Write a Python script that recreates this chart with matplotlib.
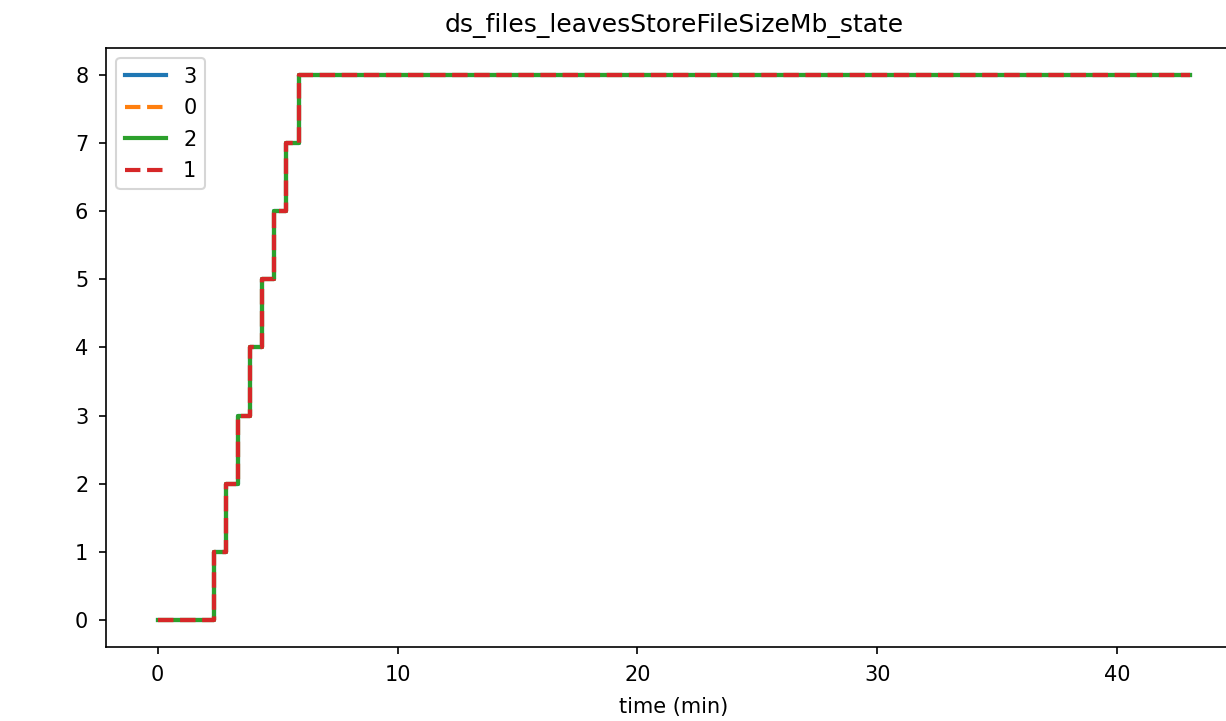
import matplotlib
matplotlib.use("Agg")
import matplotlib.pyplot as plt
import numpy as np

# series labels in legend order, all four nodes report the same value
series = ['3', '0', '2', '1']
styles = ['-', '--', '-', '--']
colors = ['C0', 'C1', 'C2', 'C3']

# time (min) at which the store file size changes, and the value after it
change_times = [0.0, 2.33, 2.85, 3.34, 3.84, 4.35, 4.84, 5.34, 5.87, 43.05]
values_mb = [0, 1, 2, 3, 4, 5, 6, 7, 8, 8]

fig = plt.figure(figsize=(1226 / 150, 721 / 150), dpi=150)
ax = fig.add_axes([0.0865, 0.1026, 0.9266, 0.831])

t = np.array(change_times)
v = np.array(values_mb)
for name, ls, c in zip(series, styles, colors):
    ax.plot(t, v, linestyle=ls, color=c, label=name, lw=2,
            drawstyle='steps-post')

ax.tick_params(axis='both', pad=5)
ax.set_title('ds_files_leavesStoreFileSizeMb_state', pad=7.5)
ax.set_xlabel('time (min)', labelpad=6)
ax.legend(loc='upper left', labelspacing=0.55)

fig.savefig('out.png', dpi=150)
